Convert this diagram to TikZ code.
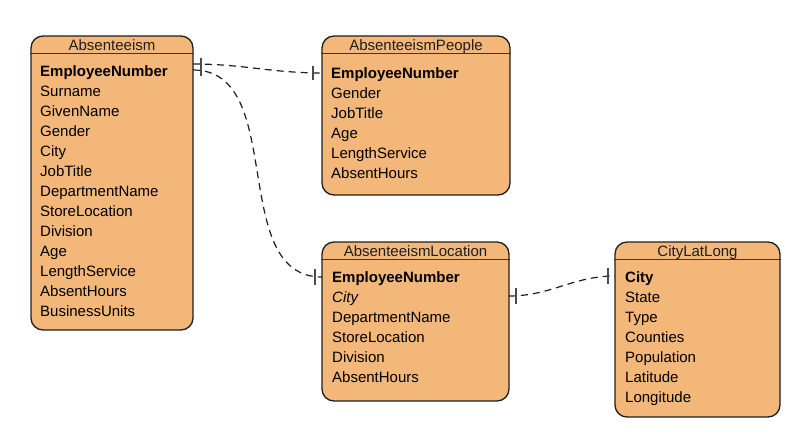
\documentclass[tikz,border=0pt]{standalone}
\usepackage{fontspec}
\setmainfont{Liberation Sans}
\usepackage{tikz}
\definecolor{er_orange}{RGB}{244, 183, 122}
\definecolor{er_line}{RGB}{30, 30, 30}
\tikzstyle{tbl}=[rectangle,rounded corners=12pt,fill=er_orange,draw=er_line,
  line width=1.3pt,inner sep=0pt]
\tikzstyle{title}=[inner sep=0pt,text height=12pt,text depth=2pt,font=\fontsize{15}{18}\selectfont,text=er_line]
\tikzstyle{field}=[anchor=west,inner sep=0pt,text height=12pt,text depth=2pt,font=\fontsize{15}{18}\selectfont]
\tikzstyle{key}=[field,font=\fontsize{15}{18}\selectfont\bfseries]
\tikzstyle{rel}=[dash pattern=on 7pt off 5pt,line width=1.2pt,draw=er_line]
\tikzstyle{one}=[line width=1.4pt,draw=er_line!80]
\tikzstyle{none}=[inner sep=0pt]

\begin{document}
\begin{tikzpicture}[x=1pt, y=-1pt]
    \useasboundingbox (0, 0) rectangle (810, 442);
    % tables
    \node [style=tbl, minimum width=162pt, minimum height=294pt] (0) at (112, 183) {};
    \node [style=tbl, minimum width=188pt, minimum height=159pt] (1) at (416, 115.5) {};
    \node [style=tbl, minimum width=187pt, minimum height=159pt] (2) at (415.5, 321.5) {};
    \node [style=tbl, minimum width=165pt, minimum height=175pt] (3) at (697.5, 329.5) {};
    \draw [line width=1.1pt, draw=er_line!85!er_orange] ([yshift=-18pt]0.north west) to ([yshift=-18pt]0.north east);
    \draw [line width=1.1pt, draw=er_line!85!er_orange] ([yshift=-18pt]1.north west) to ([yshift=-18pt]1.north east);
    \draw [line width=1.1pt, draw=er_line!85!er_orange] ([yshift=-18pt]2.north west) to ([yshift=-18pt]2.north east);
    \draw [line width=1.1pt, draw=er_line!85!er_orange] ([yshift=-18pt]3.north west) to ([yshift=-18pt]3.north east);
    \node [style=title] (4) at (112, 45) {Absenteeism};
    \node [style=title] (5) at (416, 45) {AbsenteeismPeople};
    \node [style=title] (6) at (415.5, 251) {AbsenteeismLocation};
    \node [style=title] (7) at (697.5, 251) {CityLatLong};
    % Absenteeism
    \node [style=key] (10) at (40, 71) {EmployeeNumber};
    \node [style=field] (11) at (40, 91) {Surname};
    \node [style=field] (12) at (40, 111) {GivenName};
    \node [style=field] (13) at (40, 131) {Gender};
    \node [style=field] (14) at (40, 151) {City};
    \node [style=field] (15) at (40, 171) {JobTitle};
    \node [style=field] (16) at (40, 191) {DepartmentName};
    \node [style=field] (17) at (40, 211) {StoreLocation};
    \node [style=field] (18) at (40, 231) {Division};
    \node [style=field] (19) at (40, 251) {Age};
    \node [style=field] (20) at (40, 271) {LengthService};
    \node [style=field] (21) at (40, 291) {AbsentHours};
    \node [style=field] (22) at (40, 311) {BusinessUnits};
    % AbsenteeismPeople
    \node [style=key] (23) at (331, 73) {EmployeeNumber};
    \node [style=field] (24) at (331, 93) {Gender};
    \node [style=field] (25) at (331, 113) {JobTitle};
    \node [style=field] (26) at (331, 133) {Age};
    \node [style=field] (27) at (331, 153) {LengthService};
    \node [style=field] (28) at (331, 173) {AbsentHours};
    % AbsenteeismLocation
    \node [style=key] (29) at (332, 277) {EmployeeNumber};
    \node [style=field, font=\fontsize{15}{18}\selectfont\itshape] (30) at (332, 297) {City};
    \node [style=field] (31) at (332, 317) {DepartmentName};
    \node [style=field] (32) at (332, 337) {StoreLocation};
    \node [style=field] (33) at (332, 357) {Division};
    \node [style=field] (34) at (332, 377) {AbsentHours};
    % CityLatLong
    \node [style=key] (35) at (625, 277) {City};
    \node [style=field] (36) at (625, 297) {State};
    \node [style=field] (37) at (625, 317) {Type};
    \node [style=field] (38) at (625, 337) {Counties};
    \node [style=field] (39) at (625, 357) {Population};
    \node [style=field] (40) at (625, 377) {Latitude};
    \node [style=field] (41) at (625, 397) {Longitude};
    % connector ends
    \node [style=none] (50) at (193, 64) {};
    \node [style=none] (51) at (193, 70) {};
    \node [style=none] (52) at (322, 73) {};
    \node [style=none] (53) at (322, 277) {};
    \node [style=none] (54) at (509, 296) {};
    \node [style=none] (55) at (615, 276) {};
    \node [style=none] (56) at (201, 67) {};
    \node [style=none] (57) at (313, 73) {};
    \node [style=none] (58) at (315, 277) {};
    \node [style=none] (59) at (516, 296) {};
    \node [style=none] (60) at (608, 276) {};
    \draw [style=rel] (50.center) to [out=0, in=180] (52.center);
    \draw [style=rel] (51.center) to [out=0, in=180] (53.center);
    \draw [style=rel] (54.center) to [out=0, in=180] (55.center);
    \draw [style=one] ([yshift=9pt]56.center) to ([yshift=-9pt]56.center);
    \draw [style=one] ([yshift=7pt]57.center) to ([yshift=-7pt]57.center);
    \draw [style=one] ([yshift=8pt]58.center) to ([yshift=-8pt]58.center);
    \draw [style=one] ([yshift=8pt]59.center) to ([yshift=-8pt]59.center);
    \draw [style=one] ([yshift=8pt]60.center) to ([yshift=-8pt]60.center);
\end{tikzpicture}
\end{document}
